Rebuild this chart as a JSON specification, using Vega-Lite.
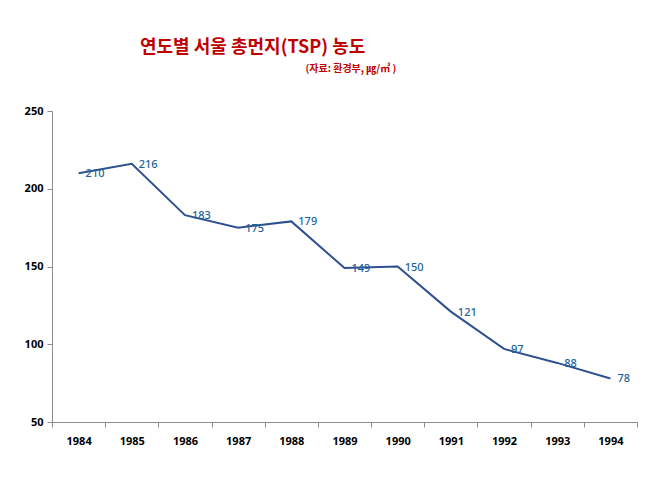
{
  "$schema": "https://vega.github.io/schema/vega-lite/v6.json",
  "autosize": "none",
  "width": 585,
  "height": 311,
  "padding": {"left": 52, "top": 111, "right": 21, "bottom": 71},
  "background": "#ffffff",
  "title": {
    "text": "연도별 서울 총먼지(TSP) 농도",
    "font": "Noto Sans CJK KR",
    "fontSize": 18,
    "fontWeight": "bold",
    "color": "#C00000",
    "anchor": "start",
    "frame": "group",
    "dx": 88,
    "offset": 6
  },
  "data": {
    "values": [
      {"year": "1984", "tsp": 210},
      {"year": "1985", "tsp": 216},
      {"year": "1986", "tsp": 183},
      {"year": "1987", "tsp": 175},
      {"year": "1988", "tsp": 179},
      {"year": "1989", "tsp": 149},
      {"year": "1990", "tsp": 150},
      {"year": "1991", "tsp": 121},
      {"year": "1992", "tsp": 97},
      {"year": "1993", "tsp": 88},
      {"year": "1994", "tsp": 78}
    ]
  },
  "encoding": {
    "x": {
      "field": "year",
      "type": "ordinal",
      "title": null,
      "scale": {"type": "band", "paddingInner": 0, "paddingOuter": 0},
      "axis": {"labelAngle": 0, "tickBand": "extent", "labelPadding": 8}
    },
    "y": {
      "field": "tsp",
      "type": "quantitative",
      "scale": {"domain": [50, 250], "nice": false},
      "axis": {
        "values": [50, 100, 150, 200, 250],
        "grid": false,
        "title": "(자료: 환경부, ㎍/㎥ )",
        "titleAngle": 0,
        "titleX": 253,
        "titleY": -43,
        "titleAlign": "left",
        "titleBaseline": "middle",
        "titleFont": "Noto Sans CJK KR",
        "titleFontSize": 10,
        "titleFontWeight": "bold",
        "titleColor": "#C00000",
        "labelPadding": 4
      }
    }
  },
  "layer": [
    {
      "mark": {"type": "line", "color": "#2E5090", "strokeWidth": 2}
    },
    {
      "mark": {
        "type": "text",
        "align": "left",
        "baseline": "middle",
        "dx": 7,
        "dy": 1,
        "font": "Noto Sans",
        "fontSize": 11,
        "fontWeight": 500,
        "color": "#1B6399"
      },
      "encoding": {"text": {"field": "tsp", "type": "quantitative"}}
    }
  ],
  "config": {
    "view": {"stroke": null},
    "axis": {
      "labelFont": "Noto Sans",
      "labelFontSize": 11,
      "labelFontWeight": "bold",
      "labelColor": "#000000",
      "domainColor": "#8C8C8C",
      "tickColor": "#8C8C8C",
      "tickSize": 5
    }
  }
}
